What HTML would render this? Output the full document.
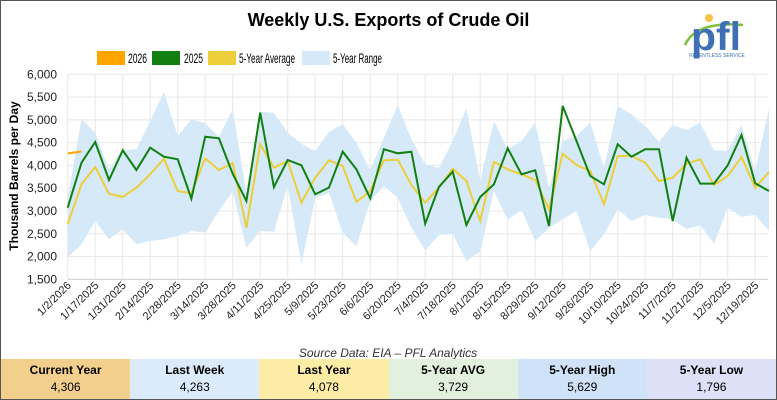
<!DOCTYPE html>
<html><head><meta charset="utf-8"><style>
body{margin:0;background:#fff;}
#w{position:relative;width:775px;height:398px;border:1px solid #555;overflow:hidden;font-family:"Liberation Sans",sans-serif;}
.t{position:absolute;top:9px;left:0;width:775px;text-align:center;font-weight:bold;font-size:18px;}
.tb{position:absolute;top:358px;left:0;width:775px;height:40px;display:flex;}
.tb div{flex:1;text-align:center;font-size:12px;line-height:17px;padding-top:3px;}
.tb b{display:block;font-size:12px;}
</style></head><body><div id="w">
<div class="t">Weekly U.S. Exports of Crude Oil</div>
<svg id="s" width="775" height="358" style="position:absolute;left:0;top:0" font-family="Liberation Sans, sans-serif"></svg>
<div class="tb">
<div style="background:#f3cf8e"><b>Current Year</b>4,306</div>
<div style="background:#dcebfb"><b>Last Week</b>4,263</div>
<div style="background:#fdeca6"><b>Last Year</b>4,078</div>
<div style="background:#e2f1dd"><b>5-Year AVG</b>3,729</div>
<div style="background:#cfe2f7"><b>5-Year High</b>5,629</div>
<div style="background:#dde0f7"><b>5-Year Low</b>1,796</div>
</div>
</div>
<script>
var g=[3072,4060,4514,3680,4332,3900,4390,4192,4134,3270,4631,4595,3818,3219,5157,3526,4119,4003,3366,3511,4301,3915,3278,4354,4266,4301,2721,3526,3862,2692,3307,3585,4375,3805,3893,2670,5304,4536,3768,3586,4463,4192,4354,4354,2780,4170,3600,3600,4003,4668,3607,3439];
var a=[2707,3585,3965,3379,3306,3511,3805,4148,3438,3388,4155,3900,4053,2633,4463,3950,4097,3182,3731,4112,3987,3197,3438,4112,4126,3570,3182,3511,3928,3658,2780,4075,3915,3805,3680,3037,4257,4009,3877,3146,4207,4207,4060,3658,3731,4038,4134,3570,3768,4185,3511,3856];
var hi=[3291,5012,4720,3915,4332,4354,4975,5618,4646,5012,4924,4624,5232,3400,5180,5157,4720,4477,4316,4734,4903,4499,3893,4609,5326,4573,4025,3950,4536,5254,3658,4975,4354,4536,4937,3511,4536,4646,4937,3950,5304,5120,4866,4520,4887,4777,4937,4332,4320,4887,3877,5254];
var lo=[1975,2268,2780,2378,2598,2268,2340,2378,2450,2560,2525,3000,3438,2195,2560,2546,3548,1829,3291,3401,2524,2231,3219,3548,3291,2633,2137,2473,2495,1902,2107,3438,2817,3020,2340,2633,2817,3000,2122,2488,3037,2780,2912,2853,2817,2598,2692,2282,3072,2875,2912,2561];
function X(i){return 66.7+i*13.75}function Y(v){return 73.3+(6000-v)*0.04556}
var h='';
for(var v=1500;v<=6000;v+=500){var y=Y(v).toFixed(1);h+='<line x1="66.7" x2="767" y1="'+y+'" y2="'+y+'" stroke="'+(v==1500?'#ccc':'#e8e8e8')+'"/>';h+='<text x="56" y="'+(+y+4)+'" font-size="12" text-anchor="end" fill="#222">'+(v/1000|0)+','+String(v%1000).padStart(3,'0')+'</text>';}
var d0=Date.UTC(2025,0,17);
for(var i=0;i<=50;i+=2){var x=X(i).toFixed(1);h+='<line x1="'+x+'" x2="'+x+'" y1="73.3" y2="278" stroke="#e8e8e8"/>';
var lab;if(i==0)lab='1/2/2026';else{var d=new Date(d0+(i-2)/2*14*864e5);lab=(d.getUTCMonth()+1)+'/'+d.getUTCDate()+'/2025';}
h+='<text transform="translate('+(+x+4)+',285) rotate(-45)" font-size="11" text-anchor="end" fill="#222">'+lab+'</text>';}
var p='';for(i=0;i<52;i++)p+=(i?'L':'M')+X(i).toFixed(1)+','+Y(hi[i]).toFixed(1);for(i=51;i>=0;i--)p+='L'+X(i).toFixed(1)+','+Y(lo[i]).toFixed(1);
h+='<path d="'+p+'Z" fill="#d6e9f8"/>';
function L(arr,c){var s='';for(var i=0;i<arr.length;i++)s+=(i?'L':'M')+X(i).toFixed(1)+','+Y(arr[i]).toFixed(1);return '<path d="'+s+'" fill="none" stroke="'+c+'" stroke-width="2"/>';}
h+=L(a,'#ecce3a')+L(g,'#118011')+'<path d="M66.7,'+Y(4263).toFixed(1)+'L80.45,'+Y(4306).toFixed(1)+'" stroke="#ffa500" stroke-width="2"/>';
h+='<text transform="translate(17,175) rotate(-90)" font-size="12" font-weight="bold" text-anchor="middle">Thousand Barrels per Day</text>';
var lg=[[96,'#ffa500','2026',127,19],[151,'#118011','2025',183,19],[207,'#ecce3a','5-Year Average',238,56],[301,'#d6e9f8','5-Year Range',332,49]];
lg.forEach(function(l){h+='<rect x="'+l[0]+'" y="50" width="28" height="14" fill="'+l[1]+'"/><text x="'+l[3]+'" y="62" font-size="14" textLength="'+l[4]+'" lengthAdjust="spacingAndGlyphs">'+l[2]+'</text>';});
h+='<text x="387" y="356" font-size="12" font-style="italic" text-anchor="middle" fill="#333">Source Data: EIA – PFL Analytics</text>';
h+='<path d="M684,44 Q695,20 742,24" stroke="#7ec23a" stroke-width="2.5" fill="none"/>';
h+='<circle cx="708" cy="17" r="4" fill="#f5c242"/><text x="715" y="49" font-size="40" font-weight="bold" fill="#3f70b5" text-anchor="middle" textLength="50" lengthAdjust="spacingAndGlyphs">pfl</text><text x="716" y="56" font-size="5" fill="#3f70b5" text-anchor="middle">RELENTLESS SERVICE</text>';
document.getElementById('s').innerHTML=h;
</script>
</body></html>
